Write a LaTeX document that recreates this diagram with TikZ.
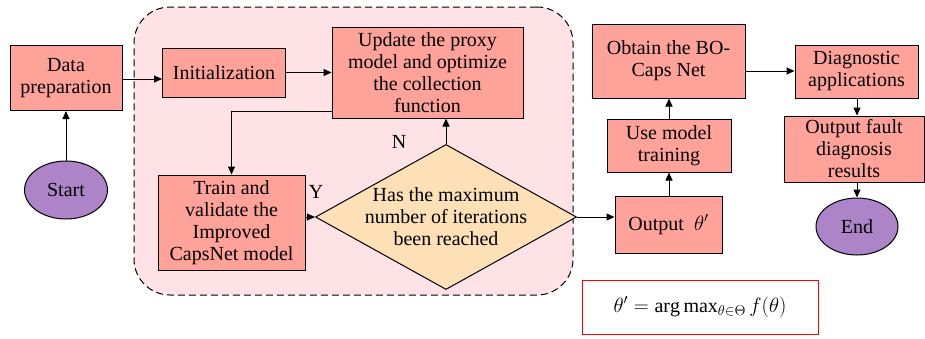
\documentclass[tikz,border=0pt]{standalone}
\usepackage{amsmath, amssymb}
\usepackage{fontspec}
\setmainfont{Liberation Serif}
\usepackage{xcolor}
\usepackage{tikz}
\usetikzlibrary{arrows.meta, positioning, shapes, calc}

\definecolor{boxfill}{HTML}{FFA29A}
\definecolor{loopfill}{HTML}{FFE2E6}
\definecolor{termfill}{HTML}{AE84C8}
\definecolor{askfill}{HTML}{FEE0B6}

\begin{document}
\begin{tikzpicture}[
  x=1pt, y=-1pt,
  every node/.style={font=\fontsize{20}{22}\selectfont},
  proc/.style={rectangle, draw=black, fill=boxfill, line width=1pt,
               align=center, inner sep=2pt},
  term/.style={ellipse, draw=black, fill=termfill, line width=1pt,
               minimum width=83pt, minimum height=58pt},
  ask/.style={diamond, draw=black, fill=askfill, line width=1pt,
              aspect=1.8, inner sep=-1pt, align=center},
  arr/.style={-{Triangle[length=8pt, width=7pt]}, line width=1pt},
  lbl/.style={font=\fontsize{20}{22}\selectfont},
]
\useasboundingbox (0,0) rectangle (925,338);

%% Optimisation loop (background)
\node[rectangle, rounded corners=36pt, draw=black, dash pattern=on 7pt off 4pt,
      fill=loopfill, line width=1pt, minimum width=439pt, minimum height=288pt]
      (loop) at (353.5,151) {};

%% Left column
\node[proc, minimum width=112pt, minimum height=65pt] (prep) at (66,78)
      {Data\\ preparation};
\node[term] (start) at (66,190) {Start};

%% Loop contents
\node[proc, minimum width=123pt, minimum height=49pt] (init) at (224,72.5)
      {Initialization};
\node[proc, minimum width=191pt, minimum height=91pt] (update) at (427.5,72.5)
      {Update the proxy\\ model and optimize\\ the collection\\ function};
\node[proc, minimum width=147pt, minimum height=95pt] (train) at (231.5,222.5)
      {Train and\\ validate the\\ Improved\\ CapsNet model};
\node[ask] (check) at (446,217)
      {Has the maximum\\ number of iterations\\ been reached};

%% Right part
\node[proc, minimum width=107pt, minimum height=57pt] (theta) at (668.5,224.5)
      {Output~~$\theta'$};
\node[proc, minimum width=124pt, minimum height=53pt] (usemod) at (669,145.5)
      {Use model\\ training};
\node[proc, minimum width=153pt, minimum height=74pt] (obtain) at (668.5,61)
      {Obtain the BO-\\ Caps Net};
\node[proc, minimum width=123pt, minimum height=53pt] (diag) at (856.5,71.5)
      {Diagnostic\\ applications};
\node[proc, minimum width=140pt, minimum height=66pt] (fault) at (854,149)
      {Output fault\\ diagnosis\\ results};
\node[term, minimum width=82pt, minimum height=57pt] (finish) at (857,226.5)
      {End};

%% Formula
\node[rectangle, draw=red, line width=1pt, minimum width=236pt,
      minimum height=54pt] (argmax) at (700,307)
      {$\theta' = \arg\max\nolimits_{\theta\in\Theta} f(\theta)$};

%% Edges
\draw[arr] (start.north) -- (prep.south);
\draw[arr] (prep.east |- 0,79) -- (init.west |- 0,79);
\draw[arr] (init.east) -- (update.west |- init.east);
\draw[arr] (update.west |- 0,111) -| (train.north);
\draw[arr] (train.east |- check.west) -- (check.west);
\node[lbl] (ylab) at (316,192) {Y};
\draw[arr] (check.north) -- (update.south -| check.north);
\node[lbl] (nlab) at (399,142) {N};
\draw[arr] (check.east) -- (theta.west |- check.east);
\draw[arr] (theta.north -| usemod.south) -- (usemod.south);
\draw[arr] (usemod.north) -- (obtain.south -| usemod.north);
\draw[arr] (obtain.east |- 0,71) -- (diag.west |- 0,71);
\draw[arr] (diag.south -| 857,0) -- (fault.north -| 857,0);
\draw[arr] (fault.south -| 857,0) -- (finish.north);

\end{tikzpicture}
\end{document}
